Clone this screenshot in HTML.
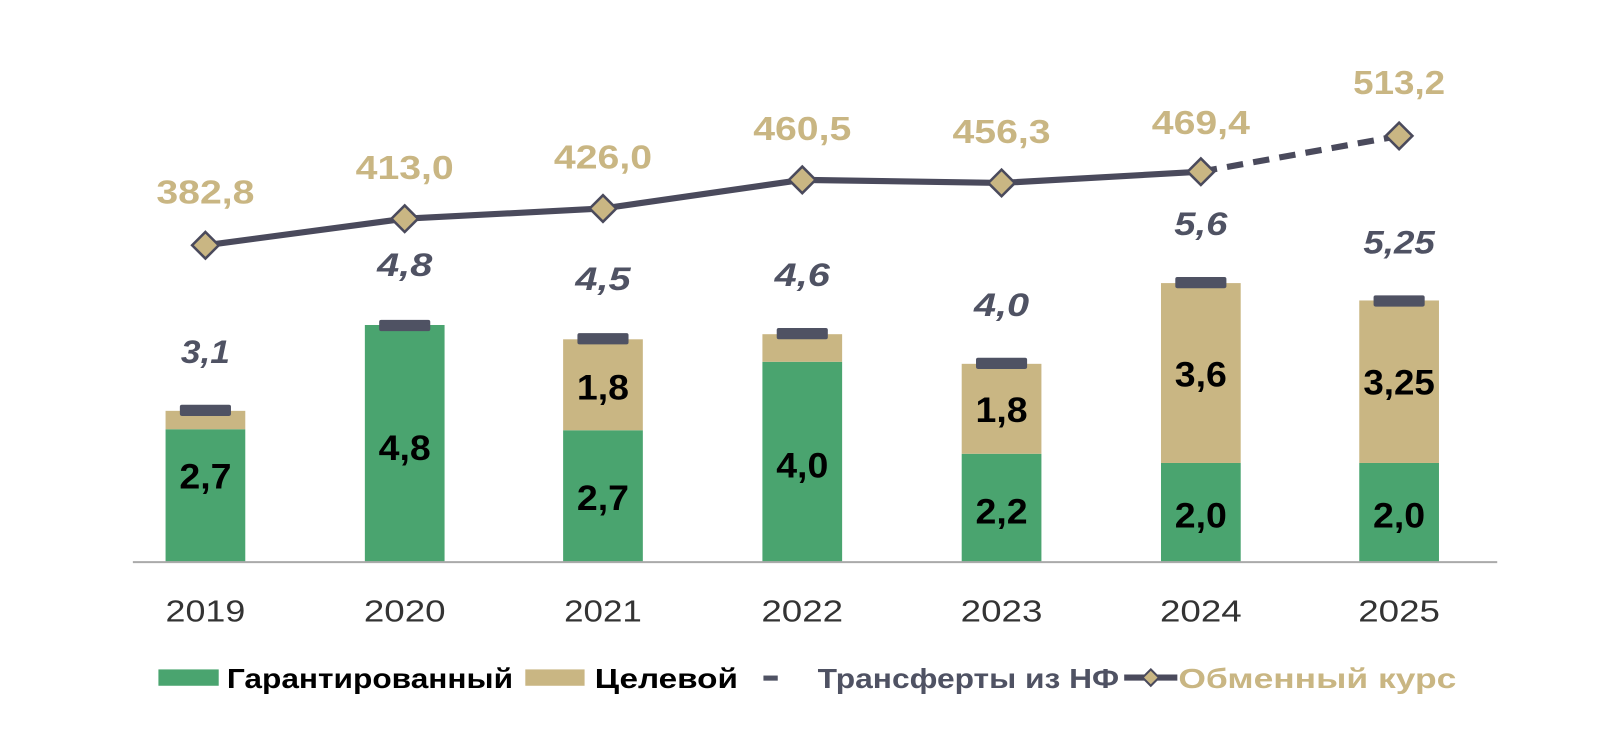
<!DOCTYPE html>
<html><head><meta charset="utf-8"><style>
body{margin:0;background:#fff;}
svg{display:block;font-family:"Liberation Sans","DejaVu Sans",sans-serif;}
</style></head><body>
<svg width="1600" height="752" viewBox="0 0 1600 752">
<g transform="scale(1.022)">
<g fill="#4aa46f">
<rect x="162" y="420" width="78" height="130"/>
<rect x="357" y="318" width="78" height="232"/>
<rect x="551" y="421" width="78" height="129"/>
<rect x="746" y="354" width="78" height="196"/>
<rect x="941" y="444" width="78" height="106"/>
<rect x="1136" y="453" width="78" height="97"/>
<rect x="1330" y="453" width="78" height="97"/>
</g>
<g fill="#c9b683">
<rect x="162" y="402" width="78" height="18"/>
<rect x="551" y="332" width="78" height="89"/>
<rect x="746" y="327" width="78" height="27"/>
<rect x="941" y="356" width="78" height="88"/>
<rect x="1136" y="277" width="78" height="176"/>
<rect x="1330" y="294" width="78" height="159"/>
</g>
<g fill="#4f5263">
<rect x="176" y="396" width="50" height="11" rx="2"/>
<rect x="371" y="313" width="50" height="11" rx="2"/>
<rect x="565" y="326" width="50" height="11" rx="2"/>
<rect x="760" y="321" width="50" height="11" rx="2"/>
<rect x="955" y="350" width="50" height="11" rx="2"/>
<rect x="1150" y="271" width="50" height="11" rx="2"/>
<rect x="1344" y="289" width="50" height="11" rx="2"/>
</g>
<line x1="130" y1="550" x2="1465" y2="550" stroke="#aaa" stroke-width="2"/>
<g font-size="34" font-weight="bold" fill="#000" text-anchor="middle">
<text x="201" y="478" textLength="51" lengthAdjust="spacingAndGlyphs">2,7</text>
<text x="396" y="450" textLength="51" lengthAdjust="spacingAndGlyphs">4,8</text>
<text x="590" y="499" textLength="51" lengthAdjust="spacingAndGlyphs">2,7</text>
<text x="590" y="391" textLength="51" lengthAdjust="spacingAndGlyphs">1,8</text>
<text x="785" y="467" textLength="51" lengthAdjust="spacingAndGlyphs">4,0</text>
<text x="980" y="512" textLength="51" lengthAdjust="spacingAndGlyphs">2,2</text>
<text x="980" y="413" textLength="51" lengthAdjust="spacingAndGlyphs">1,8</text>
<text x="1175" y="516" textLength="51" lengthAdjust="spacingAndGlyphs">2,0</text>
<text x="1175" y="378" textLength="51" lengthAdjust="spacingAndGlyphs">3,6</text>
<text x="1369" y="516" textLength="51" lengthAdjust="spacingAndGlyphs">2,0</text>
<text x="1369" y="386" textLength="70" lengthAdjust="spacingAndGlyphs">3,25</text>
</g>
<g font-size="32" font-weight="bold" font-style="italic" fill="#4f5263" text-anchor="middle">
<text x="201" y="355" textLength="48" lengthAdjust="spacingAndGlyphs">3,1</text>
<text x="396" y="270" textLength="54" lengthAdjust="spacingAndGlyphs">4,8</text>
<text x="590" y="284" textLength="54" lengthAdjust="spacingAndGlyphs">4,5</text>
<text x="785" y="280" textLength="54" lengthAdjust="spacingAndGlyphs">4,6</text>
<text x="980" y="309" textLength="54" lengthAdjust="spacingAndGlyphs">4,0</text>
<text x="1175" y="230" textLength="52" lengthAdjust="spacingAndGlyphs">5,6</text>
<text x="1369" y="248" textLength="70" lengthAdjust="spacingAndGlyphs">5,25</text>
</g>
<polyline points="201,240 396,214 590,204 785,176 980,179 1175,168" fill="none" stroke="#4a4a5c" stroke-width="6"/>
<line x1="1175" y1="168" x2="1369" y2="133" stroke="#4a4a5c" stroke-width="6" stroke-dasharray="16,10"/>
<g fill="#c9b683" stroke="#4a4a5c" stroke-width="2.5">
<polygon points="201,227 214,240 201,253 188,240"/>
<polygon points="396,201 409,214 396,227 383,214"/>
<polygon points="590,191 603,204 590,217 577,204"/>
<polygon points="785,163 798,176 785,189 772,176"/>
<polygon points="980,166 993,179 980,192 967,179"/>
<polygon points="1175,155 1188,168 1175,181 1162,168"/>
<polygon points="1369,120 1382,133 1369,146 1356,133"/>
</g>
<g font-size="33" font-weight="bold" fill="#c9b683" text-anchor="middle">
<text x="201" y="199" textLength="96" lengthAdjust="spacingAndGlyphs">382,8</text>
<text x="396" y="175" textLength="96" lengthAdjust="spacingAndGlyphs">413,0</text>
<text x="590" y="165" textLength="96" lengthAdjust="spacingAndGlyphs">426,0</text>
<text x="785" y="137" textLength="96" lengthAdjust="spacingAndGlyphs">460,5</text>
<text x="980" y="140" textLength="96" lengthAdjust="spacingAndGlyphs">456,3</text>
<text x="1175" y="131" textLength="96" lengthAdjust="spacingAndGlyphs">469,4</text>
<text x="1369" y="92" textLength="90" lengthAdjust="spacingAndGlyphs">513,2</text>
</g>
<g font-size="30" fill="#333" text-anchor="middle">
<text x="201" y="608" textLength="78" lengthAdjust="spacingAndGlyphs">2019</text>
<text x="396" y="608" textLength="80" lengthAdjust="spacingAndGlyphs">2020</text>
<text x="590" y="608" textLength="76" lengthAdjust="spacingAndGlyphs">2021</text>
<text x="785" y="608" textLength="80" lengthAdjust="spacingAndGlyphs">2022</text>
<text x="980" y="608" textLength="80" lengthAdjust="spacingAndGlyphs">2023</text>
<text x="1175" y="608" textLength="80" lengthAdjust="spacingAndGlyphs">2024</text>
<text x="1369" y="608" textLength="80" lengthAdjust="spacingAndGlyphs">2025</text>
</g>
<g font-size="27" font-weight="bold">
<rect x="155" y="655" width="59" height="16" fill="#4aa46f"/>
<text x="222" y="673" fill="#000" textLength="280" lengthAdjust="spacingAndGlyphs">Гарантированный</text>
<rect x="514" y="655" width="58" height="16" fill="#c9b683"/>
<text x="582" y="673" fill="#000" textLength="140" lengthAdjust="spacingAndGlyphs">Целевой</text>
<rect x="747" y="661" width="14" height="5" fill="#4f5263"/>
<text x="800" y="673" fill="#4f5263" textLength="295" lengthAdjust="spacingAndGlyphs">Трансферты из НФ</text>
<line x1="1100" y1="663" x2="1152" y2="663" stroke="#4a4a5c" stroke-width="6"/>
<polygon points="1126,655 1134,663 1126,671 1118,663" fill="#c9b683" stroke="#4a4a5c" stroke-width="2"/>
<text x="1153" y="673" fill="#c9b683" textLength="272" lengthAdjust="spacingAndGlyphs">Обменный курс</text>
</g>
</g>
</svg>
</body></html>
